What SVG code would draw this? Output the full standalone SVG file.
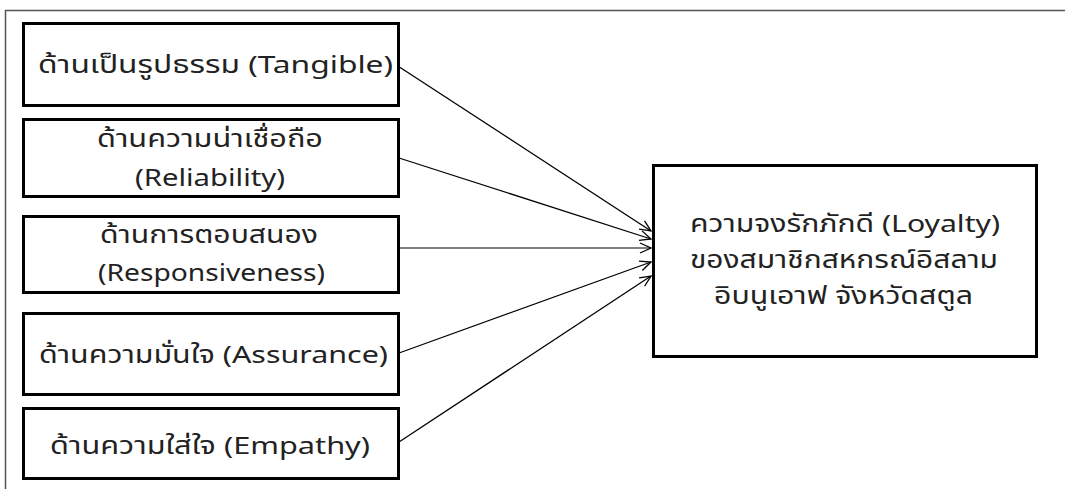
<svg xmlns="http://www.w3.org/2000/svg" width="1065" height="489" viewBox="0 0 1065 489">
<style>
.box{fill:#fff;stroke:#000;stroke-width:3}
.t{font-family:"Noto Sans Thai","Tahoma","Noto Sans","DejaVu Sans",sans-serif;font-size:24px;fill:#222;text-anchor:middle}
.c{stroke:#000;stroke-width:1.3;fill:none;marker-end:url(#ah)}
.frame{stroke:#555;stroke-width:1.5;fill:none}
</style>
<defs>
<marker id="ah" markerWidth="14" markerHeight="14" refX="12" refY="6" orient="auto" markerUnits="userSpaceOnUse">
<path d="M1,1 L12,6 L1,11" fill="none" stroke="#000" stroke-width="1.3"/>
</marker>
</defs>
<path class="frame" d="M1065,10.5 H5.5 V489"/>
<g id="connectors">
<line class="c" x1="399" y1="66.7" x2="651" y2="231"/>
<line class="c" x1="399" y1="158" x2="651" y2="239"/>
<line class="c" x1="399" y1="248" x2="651" y2="248" style="stroke:#555"/>
<line class="c" x1="399" y1="353" x2="651" y2="262"/>
<line class="c" x1="399" y1="442" x2="651" y2="276"/>
</g>
<g id="n1">
<rect class="box" x="23.5" y="23.5" width="375" height="82"/>
<text class="t" x="215.5" y="73" textLength="355" lengthAdjust="spacingAndGlyphs">ด้านเป็นรูปธรรม  (Tangible)</text>
</g>
<g id="n2">
<rect class="box" x="23.5" y="119.5" width="375" height="77"/>
<text class="t" x="210" y="147" textLength="226" lengthAdjust="spacingAndGlyphs">ด้านความน่าเชื่อถือ</text>
<text class="t" x="210" y="186" textLength="150" lengthAdjust="spacingAndGlyphs">(Reliability)</text>
</g>
<g id="n3">
<rect class="box" x="23.5" y="216.5" width="375" height="76"/>
<text class="t" x="209" y="243" textLength="218" lengthAdjust="spacingAndGlyphs">ด้านการตอบสนอง</text>
<text class="t" x="211.5" y="281" textLength="227" lengthAdjust="spacingAndGlyphs">(Responsiveness)</text>
</g>
<g id="n4">
<rect class="box" x="23.5" y="313.5" width="375" height="81"/>
<text class="t" x="213.5" y="363" textLength="349" lengthAdjust="spacingAndGlyphs">ด้านความมั่นใจ (Assurance)</text>
</g>
<g id="n5">
<rect class="box" x="23.5" y="408.5" width="375" height="70"/>
<text class="t" x="210" y="454" textLength="320" lengthAdjust="spacingAndGlyphs">ด้านความใส่ใจ (Empathy)</text>
</g>
<g id="n6">
<rect class="box" x="653.5" y="165.5" width="383" height="191"/>
<text class="t" x="845" y="232" textLength="310" lengthAdjust="spacingAndGlyphs">ความจงรักภักดี (Loyalty)</text>
<text class="t" x="844" y="268" textLength="308" lengthAdjust="spacingAndGlyphs">ของสมาชิกสหกรณ์อิสลาม</text>
<text class="t" x="843.5" y="304" textLength="259" lengthAdjust="spacingAndGlyphs">อิบนูเอาฟ จังหวัดสตูล</text>
</g>
</svg>
